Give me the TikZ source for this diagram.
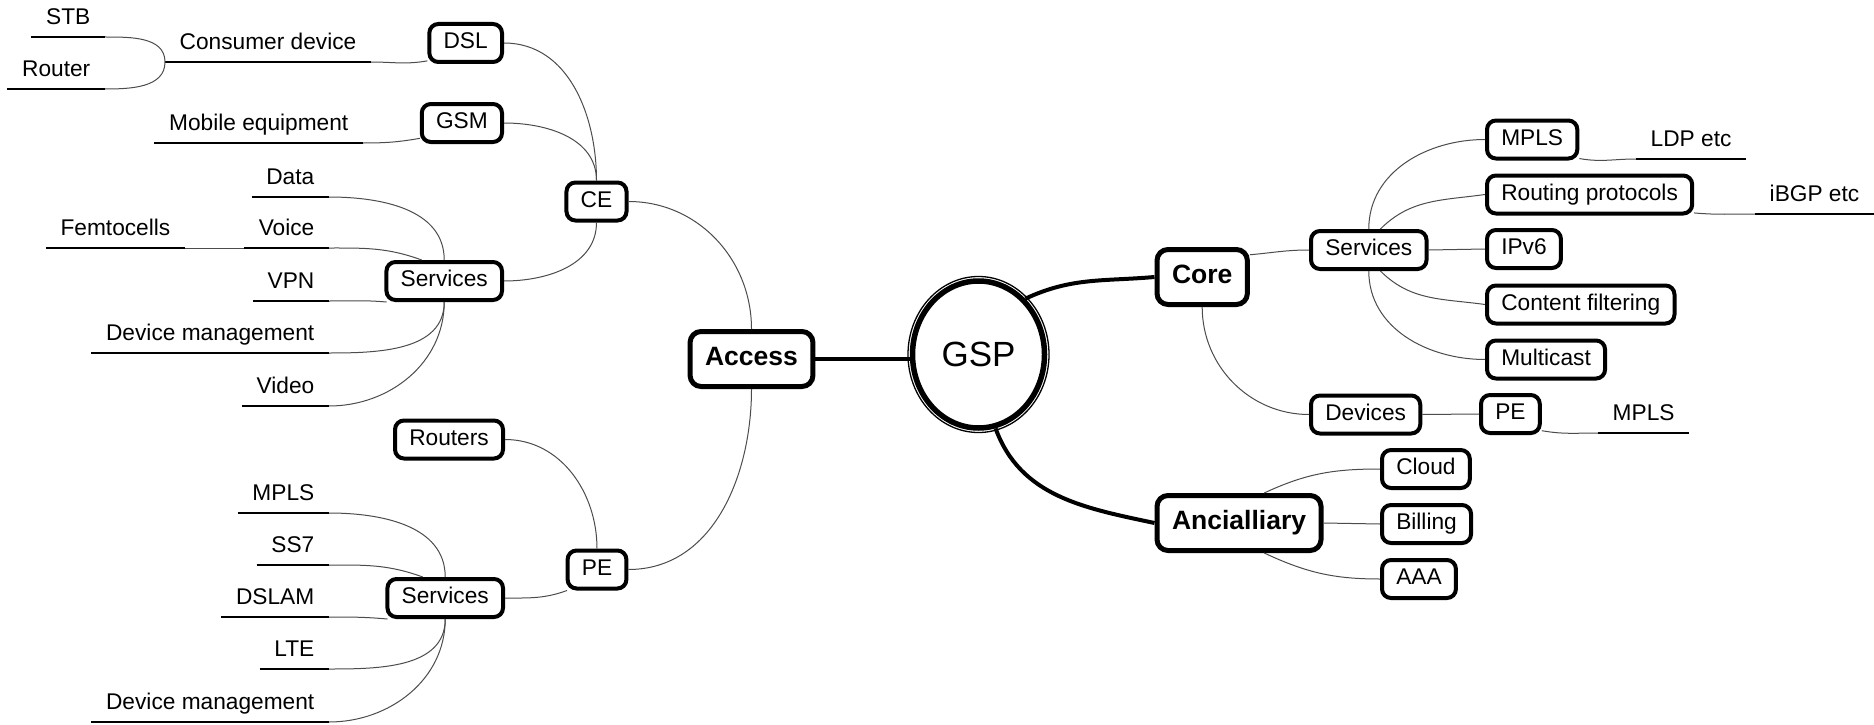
\documentclass[tikz,border=0pt]{standalone}
\usepackage{fontspec}
\setmainfont{Liberation Sans}
\usetikzlibrary{shapes.geometric,calc}
\begin{document}
\begin{tikzpicture}[x=1pt,y=1pt,
  box/.style={draw, line width=4pt, rounded corners=9pt, inner xsep=14.25pt, inner ysep=0pt, minimum height=38pt, text height=16pt, text depth=4.5pt, font=\fontsize{22.7}{27}\selectfont},
  bigbox/.style={draw, line width=5pt, rounded corners=11pt, inner xsep=15pt, inner ysep=0pt, minimum height=55pt, text height=19pt, text depth=5.5pt, font=\fontsize{26.5}{32}\selectfont\bfseries},
  leaf/.style={inner xsep=14.5pt, inner ysep=6.5pt, text height=16pt, text depth=5.5pt, font=\fontsize{22.7}{27}\selectfont},
  uline/.style={line width=2.5pt},
  thinlink/.style={line width=1pt, black!70},
  heavy/.style={line width=4pt}
]
\fill[white] (0,0) rectangle (1874,-725);
\useasboundingbox (0,0) rectangle (1874,-725);

% ---- left boxes
\node[box, anchor=east] (dsl) at (504,-43) {DSL};
\node[box, anchor=east] (gsm) at (504,-123) {GSM};
\node[box] (ce) at (596.5,-201.5) {CE};
\node[box, anchor=east] (srvA) at (504,-281) {Services};
\node[bigbox] (access) at (751.5,-359) {Access};
\node[box, anchor=east] (routers) at (505,-439.5) {Routers};
\node[box] (peA) at (597,-569.5) {PE};
\node[box, anchor=east] (srvB) at (505,-598) {Services};

% ---- centre
\node[draw, ellipse, line width=5.5pt, minimum width=132pt, minimum height=147pt, inner sep=0pt, font=\fontsize{35}{40}\selectfont] (gsp) at (978.5,-354.5) {GSP};
\draw[line width=1.3pt] (gsp.center) ellipse [x radius=70.5pt, y radius=78pt];

% ---- right boxes
\node[bigbox, anchor=west] (core) at (1154.5,-277) {Core};
\node[bigbox, anchor=west] (anc) at (1154.5,-523) {Ancialliary};
\node[box, anchor=west] (srvC) at (1309,-250) {Services};
\node[box, anchor=west] (devices) at (1309,-414.5) {Devices};
\node[box, anchor=west] (mplsA) at (1485,-139.5) {MPLS};
\node[box, anchor=west] (routing) at (1485,-194.5) {Routing protocols};
\node[box, anchor=west] (ipv6) at (1485,-249) {IPv6};
\node[box, anchor=west] (content) at (1485,-304.5) {Content filtering};
\node[box, anchor=west] (multicast) at (1485,-359.5) {Multicast};
\node[box, anchor=west] (peB) at (1479,-414) {PE};
\node[box, anchor=west] (cloud) at (1380,-469) {Cloud};
\node[box, anchor=west] (billing) at (1380,-524) {Billing};
\node[box, anchor=west] (aaa) at (1380,-579) {AAA};

% ---- underlined leaves
\node[leaf, anchor=south east] (stb) at (105,-37) {STB};
\node[leaf, anchor=south east] (router) at (105,-89) {Router};
\node[leaf, anchor=south west] (cdev) at (165,-62) {Consumer device};
\node[leaf, anchor=south east] (mobile) at (363,-143) {Mobile equipment};
\node[leaf, anchor=south east] (data) at (329,-197) {Data};
\node[leaf, anchor=south east] (femto) at (185,-248) {Femtocells};
\node[leaf, anchor=south east] (voice) at (329,-248) {Voice};
\node[leaf, anchor=south east] (vpn) at (329,-301) {VPN};
\node[leaf, anchor=south east] (dmA) at (329,-353) {Device management};
\node[leaf, anchor=south east] (video) at (329,-406) {Video};
\node[leaf, anchor=south east] (mplsL) at (329,-513) {MPLS};
\node[leaf, anchor=south east] (ss7) at (329,-565) {SS7};
\node[leaf, anchor=south east] (dslam) at (329,-617) {DSLAM};
\node[leaf, anchor=south east] (lte) at (329,-669) {LTE};
\node[leaf, anchor=south east] (dmB) at (329,-722) {Device management};
\node[leaf, anchor=south west] (ldp) at (1636,-159) {LDP etc};
\node[leaf, anchor=south west] (ibgp) at (1755,-214) {iBGP etc};
\node[leaf, anchor=south west] (mplsR) at (1598,-433) {MPLS};

\foreach \n in {stb,router,cdev,mobile,data,femto,voice,vpn,dmA,video,mplsL,ss7,dslam,lte,dmB,ldp,ibgp,mplsR}
  \draw[uline] (\n.south west) -- (\n.south east);

% ---- thin connectors, left
\draw[thinlink] (stb.south east) to[out=0,in=90] (cdev.south west);
\draw[thinlink] (router.south east) to[out=0,in=-90] (cdev.south west);
\draw[thinlink] (cdev.south east) to[out=0,in=190] (dsl.205);
\draw[thinlink] (mobile.south east) to[out=0,in=190] (gsm.200);
\draw[thinlink] (dsl.east) to[out=0,in=90] (ce.north);
\draw[thinlink] (gsm.east) to[out=0,in=90] (ce.north);
\draw[thinlink] (ce.south) to[out=-90,in=0] (srvA.east);
\draw[thinlink] (ce.east) to[out=0,in=90] (access.north);
\draw[thinlink] (access.south) to[out=-90,in=0] (peA.east);
\draw[thinlink] (routers.east) to[out=0,in=90] (peA.north);
\draw[thinlink] (srvB.east) to[out=0,in=200] (peA.215);

\draw[thinlink] (data.south east) to[out=0,in=90] (srvA.north);
\draw[thinlink] (voice.south east) to[out=0,in=160] (srvA.137);
\draw[thinlink] (femto.south east) -- (voice.south west);
\draw[thinlink] (vpn.south east) to[out=0,in=175] (srvA.200);
\draw[thinlink] (dmA.south east) to[out=0,in=-90] (srvA.south);
\draw[thinlink] (video.south east) to[out=0,in=-90] (srvA.south);

\draw[thinlink] (mplsL.south east) to[out=0,in=90] (srvB.north);
\draw[thinlink] (ss7.south east) to[out=0,in=160] (srvB.137);
\draw[thinlink] (dslam.south east) to[out=0,in=175] (srvB.200);
\draw[thinlink] (lte.south east) to[out=0,in=-90] (srvB.south);
\draw[thinlink] (dmB.south east) to[out=0,in=-90] (srvB.south);

% ---- thin connectors, right
\draw[thinlink] (core.25) to[out=5,in=180] (srvC.west);
\draw[thinlink] (core.south) to[out=-90,in=180] (devices.west);
\draw[thinlink] (srvC.north) to[out=90,in=180] (mplsA.west);
\draw[thinlink] (srvC.61) to[out=45,in=188] (routing.west);
\draw[thinlink] (srvC.east) -- (ipv6.west);
\draw[thinlink] (srvC.-61) to[out=-45,in=172] (content.west);
\draw[thinlink] (srvC.south) to[out=-90,in=180] (multicast.west);
\draw[thinlink] (devices.east) -- (peB.west);
\draw[thinlink] (mplsA.-22) to[out=-10,in=180] (ldp.south west);
\draw[thinlink] (routing.-10) to[out=-5,in=180] (ibgp.south west);
\draw[thinlink] (peB.-28) to[out=-10,in=180] (mplsR.south west);
\draw[thinlink] (anc.50) to[out=25,in=180] (cloud.west);
\draw[thinlink] (anc.east) -- (billing.west);
\draw[thinlink] (anc.-50) to[out=-25,in=180] (aaa.west);

% ---- heavy connectors
\draw[heavy] (access.east) -- (access.east -| gsp.west);
\draw[heavy] (gsp.50) to[out=25,in=185] (core.west);
\draw[heavy] (gsp.-77) to[out=-70,in=168] (anc.west);
\end{tikzpicture}
\end{document}
